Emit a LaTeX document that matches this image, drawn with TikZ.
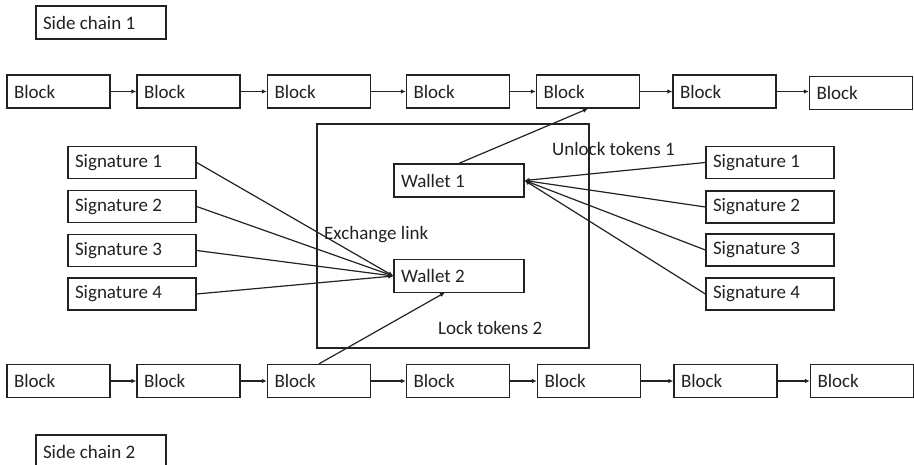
\documentclass[tikz,border=0pt]{standalone}
\usepackage{fontspec}
\setmainfont{Carlito}
\usetikzlibrary{arrows.meta}
\definecolor{ink}{HTML}{222222}
\tikzset{
  box/.style={draw=ink, line width=1.3pt, text=ink, font=\fontsize{19}{21}\selectfont,
    inner xsep=7pt, inner ysep=0pt, align=flush left, anchor=center},
  blk/.style={box, minimum width=103pt, text width=89pt, minimum height=33pt},
  sig/.style={box, minimum width=128pt, text width=114pt, minimum height=32pt},
  wal/.style={box, minimum width=130pt, text width=116pt, minimum height=33pt},
  lbl/.style={text=ink, font=\fontsize{19}{21}\selectfont, inner sep=0pt, anchor=west},
  conn/.style={draw=ink, line width=1.2pt, -{Latex[length=5pt,width=4.5pt]}}
}
\begin{document}
\begin{tikzpicture}[x=1pt,y=-1pt]
\useasboundingbox (0,0) rectangle (914,465);
% side chain labels
\node[box, minimum width=130pt, text width=116pt, minimum height=33pt] (sc1) at (101,22.5) {Side chain 1};
\node[box, minimum width=130pt, text width=116pt, minimum height=33pt] (sc2) at (101,451.5) {Side chain 2};
% central frame
\node[draw=ink, line width=1.3pt, minimum width=272pt, minimum height=224pt, inner sep=0pt] (frame) at (453,236) {};
% top chain
\node[blk] (t1) at (58.5,91.5) {Block};
\node[blk] (t2) at (188.5,91.5) {Block};
\node[blk] (t3) at (319,91.5) {Block};
\node[blk] (t4) at (458,91.5) {Block};
\node[blk] (t5) at (588,91.5) {Block};
\node[blk] (t6) at (724.5,91.5) {Block};
\node[blk] (t7) at (861,93) {Block};
% bottom chain
\node[blk] (b1) at (58.5,381) {Block};
\node[blk] (b2) at (188.5,381) {Block};
\node[blk] (b3) at (319,381) {Block};
\node[blk] (b4) at (458,381) {Block};
\node[blk] (b5) at (589,381) {Block};
\node[blk] (b6) at (725.5,381) {Block};
\node[blk] (b7) at (862,381) {Block};
% wallets
\node[wal] (w1) at (459,180.5) {Wallet 1};
\node[wal] (w2) at (459,276) {Wallet 2};
% left signatures
\node[sig] (ls1) at (132,162.5) {Signature 1};
\node[sig] (ls2) at (132,206.5) {Signature 2};
\node[sig] (ls3) at (132,250.5) {Signature 3};
\node[sig] (ls4) at (132,294) {Signature 4};
% right signatures
\node[sig] (rs1) at (770,162.5) {Signature 1};
\node[sig] (rs2) at (770,207) {Signature 2};
\node[sig] (rs3) at (770,250) {Signature 3};
\node[sig] (rs4) at (770,294) {Signature 4};
% labels
\node[lbl] (ul) at (552,149) {Unlock tokens 1};
\node[lbl] (el) at (324,235) {Exchange link};
\node[lbl] (ll) at (438,328) {Lock tokens 2};
% chain arrows
\foreach \a/\b in {t1/t2,t2/t3,t3/t4,t4/t5,t5/t6,b1/b2,b2/b3,b3/b4,b4/b5,b5/b6,b6/b7}{
  \draw[conn] (\a.east) -- (\b.west);
}
\draw[conn] (t6.east) -- (t7.west |- t6.east);
% wallet arrows
\draw[conn] (w1.north) -- (t5.south);
\coordinate (w2b) at (445,292.5);
\draw[conn] (b3.north) -- (w2b);
\foreach \s in {ls1,ls2,ls3,ls4}{ \draw[conn] (\s.east) -- (w2.west); }
\foreach \s in {rs1,rs2,rs3,rs4}{ \draw[conn] (\s.west) -- (w1.east); }
\end{tikzpicture}
\end{document}
